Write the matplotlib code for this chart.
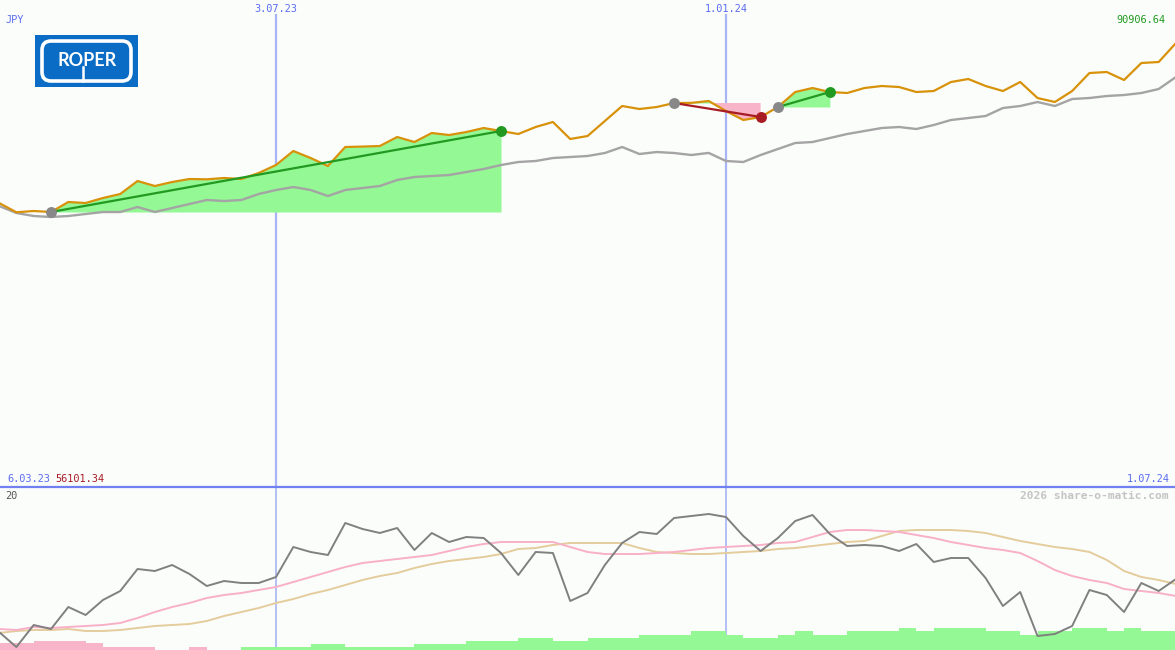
import datetime as dt
import numpy as np
import matplotlib
matplotlib.use("Agg")
import matplotlib.pyplot as plt
from matplotlib.patches import Rectangle, FancyBboxPatch
from matplotlib.lines import Line2D

# ---------------- data ----------------
start_date = dt.date(2023, 3, 6)
n_weeks = 70
week_dates = [start_date + dt.timedelta(days=7 * i) for i in range(n_weeks)]

price = [56101.34, 58146, 56250, 56508, 56304, 58351, 58146, 59170, 59989, 62650,
         61627, 62446, 63060, 63000, 63265, 63060, 64288, 65926, 68793, 67359,
         65722, 69612, 69700, 69816, 71659, 70635, 72478, 72068, 72683, 73502,
         72887, 72273, 73706, 74730, 71250, 71864, 74935, 78006, 77392, 77801,
         78620, 78650, 79030, 76982, 75140, 75754, 77801, 80872, 81691, 80872,
         80668, 81691, 82101, 81896, 80872, 81077, 82920, 83534, 82101, 81077,
         82920, 79644, 78825, 81077, 84762, 84967, 83329, 86810, 87015, 90906.64]

benchmark = [57737, 57532, 56099, 55485, 55280, 55485, 55894, 56304, 56304, 57327,
             56304, 57122, 57941, 58760, 58556, 58760, 59989, 60808, 61422, 60808,
             59579, 60808, 61217, 61627, 62855, 63469, 63674, 63879, 64493, 65107,
             65926, 66541, 66745, 67359, 67564, 67769, 68383, 69612, 68178, 68588,
             68383, 67974, 68400, 66745, 66541, 67974, 69202, 70431, 70635, 71454,
             72273, 72887, 73502, 73706, 73297, 74116, 75140, 75549, 75959, 77597,
             78006, 78825, 78006, 79439, 79644, 80053, 80258, 80668, 81487, 83943]

# lower panel (from 13.03.23)
oscillator = [18, 3, 25, 21, 43, 35, 50, 59, 81, 79, 85, 76, 64, 69, 67, 67, 73, 103,
              98, 95, 127, 121, 117, 122, 100, 117, 108, 113, 112, 97, 75, 98, 97, 49,
              57, 85, 107, 118, 116, 132, 134, 136, 133, 114, 99, 112, 129, 135, 116,
              104, 105, 104, 99, 106, 88, 92, 92, 72, 44, 58, 14, 16, 24, 60, 55, 38,
              67, 59, 71]
ma_fast = [21, 20, 23, 22, 23, 24, 25, 27, 32, 38, 43, 47, 52, 55, 57, 60, 63, 68, 73,
           78, 83, 87, 89, 91, 93, 95, 99, 103, 106, 108, 108, 108, 108, 103, 98, 96,
           96, 96, 97, 98, 100, 102, 103, 104, 105, 107, 108, 113, 118, 120, 120, 119,
           118, 115, 112, 108, 105, 102, 100, 97, 89, 80, 74, 70, 67, 61, 59, 57, 54]
ma_slow = [17, 19, 20, 20, 21, 19, 19, 20, 22, 24, 25, 26, 29, 34, 38, 42, 47, 51, 56,
           60, 65, 70, 74, 77, 82, 86, 89, 91, 93, 96, 101, 102, 105, 107, 107, 107,
           107, 102, 98, 97, 96, 96, 97, 98, 99, 101, 102, 104, 106, 108, 109, 114,
           119, 120, 120, 120, 119, 117, 113, 109, 106, 103, 101, 98, 90, 79, 73, 70, 66]
bars = [-7, -7, -9, -9, -9, -7, -3, -3, -3, 0, 0, -3, 0, 0, 3, 3, 3, 3, 6, 6, 3, 3, 3,
        3, 6, 6, 6, 9, 9, 9, 12, 12, 9, 9, 12, 12, 12, 15, 15, 15, 19, 19, 15, 12, 12,
        15, 19, 15, 15, 19, 19, 19, 22, 19, 22, 22, 22, 19, 19, 15, 19, 19, 22, 22, 19,
        22, 19, 19, 19]

# trades: (entry date, exit date)
trade_entries = [dt.date(2023, 4, 3), dt.date(2023, 12, 11), dt.date(2024, 1, 22)]
trade_exits = [dt.date(2023, 10, 2), dt.date(2024, 1, 15), dt.date(2024, 2, 12)]

tick_labels = ["3.07.23", "1.01.24"]
tick_dates = [dt.date(2023, 7, 3), dt.date(2024, 1, 1)]

currency = "JPY"
first_label = "6.03.23"
last_label = "1.07.24"
first_price_label = "56101.34"
last_price_label = "90906.64"
scale_label = "20"
credit = "2026 share-o-matic.com"

# ---------------- helpers ----------------
def dnum(d):
    return (d - start_date).days

x_all = np.array([dnum(d) for d in week_dates], dtype=float)
x_low = x_all[1:]
price = np.array(price, dtype=float)
benchmark = np.array(benchmark, dtype=float)

W, H = 1175, 650
TOP_H = 487
xl = (7.37, 482.6)

bg = "#fbfdfb"
c_orange = "#d8920a"
c_gray = "#a4a4a4"
c_green_fill = "#94f894"
c_pink_fill = "#f8b4c8"
c_green = "#229a22"
c_red = "#a81c24"
c_blue_line = "#a8b4f4"
c_blue_text = "#5a6cf0"

fig = plt.figure(figsize=(W / 100, H / 100), dpi=100)
fig.patch.set_facecolor(bg)

ax = fig.add_axes([0, (H - TOP_H) / H, 1, TOP_H / H])
ax.axis("off")
ax.set_xlim(*xl)
ax.set_ylim(0, 99711)

ax2 = fig.add_axes([0, 0, 1, (H - TOP_H) / H])
ax2.axis("off")
ax2.set_xlim(*xl)
ax2.set_ylim(0, H - TOP_H)

# vertical date lines
for td in tick_dates:
    ax.axvline(dnum(td), ymin=0, ymax=1 - 15 / TOP_H, color=c_blue_line, lw=1.6, zorder=1)
    ax2.axvline(dnum(td), color=c_blue_line, lw=1.2, zorder=1)

# trade fills
for en, ex in zip(trade_entries, trade_exits):
    i0 = week_dates.index(en)
    i1 = week_dates.index(ex)
    xs = x_all[i0:i1 + 1]
    ys = price[i0:i1 + 1]
    base = price[i0]
    ax.fill_between(xs, base, ys, where=ys >= base, interpolate=True,
                    color=c_green_fill, lw=0, zorder=2)
    ax.fill_between(xs, base, ys, where=ys <= base, interpolate=True,
                    color=c_pink_fill, lw=0, zorder=2)

ax.plot(x_all, benchmark, color=c_gray, lw=1.7, zorder=3)
ax.plot(x_all, price, color=c_orange, lw=1.6, zorder=4)

for en, ex in zip(trade_entries, trade_exits):
    i0 = week_dates.index(en)
    i1 = week_dates.index(ex)
    gain = price[i1] >= price[i0]
    col = c_green if gain else c_red
    ax.plot([x_all[i0], x_all[i1]], [price[i0], price[i1]], color=col, lw=1.6, zorder=5)
    ax.scatter([x_all[i0]], [price[i0]], s=62, color="#888888", zorder=6, lw=0)
    ax.scatter([x_all[i1]], [price[i1]], s=62, color=col, zorder=6, lw=0)

# lower panel
bvals = np.array(bars, dtype=float)
bcols = [c_green_fill if v > 0 else c_pink_fill for v in bvals]
ax2.bar(x_low, np.abs(bvals), width=7, align="edge", color=bcols, lw=0, zorder=1)
ax2.plot(x_low, ma_slow, color="#e4cc9c", lw=1.4, zorder=2)
ax2.plot(x_low, ma_fast, color="#f8b0c8", lw=1.4, zorder=2)
ax2.plot(x_low, oscillator, color="#808080", lw=1.4, zorder=3)

# separator line
fig.add_artist(Line2D([0, 1], [(H - TOP_H) / H] * 2, transform=fig.transFigure,
                      color="#7080f0", lw=1.6))

# texts
def px(x, y):
    return x / W, 1 - y / H

mono = "DejaVu Sans Mono"
fs = 7.4
for lab, td in zip(tick_labels, tick_dates):
    xp = (dnum(td) - xl[0]) / (xl[1] - xl[0]) * W
    fig.text(*px(xp, 9), lab, color=c_blue_text, fontsize=fs, family=mono,
             ha="center", va="center")
fig.text(*px(5, 20), currency, color=c_blue_text, fontsize=fs, family=mono,
         ha="left", va="center")
fig.text(*px(1165, 20), last_price_label, color=c_green, fontsize=fs, family=mono,
         ha="right", va="center")
fig.text(*px(7, 479), first_label, color=c_blue_text, fontsize=fs, family=mono,
         ha="left", va="center")
fig.text(*px(55, 479), first_price_label, color=c_red, fontsize=fs, family=mono,
         ha="left", va="center")
fig.text(*px(1170, 479), last_label, color=c_blue_text, fontsize=fs, family=mono,
         ha="right", va="center")
fig.text(*px(5, 496), scale_label, color="#555555", fontsize=fs, family=mono,
         ha="left", va="center")
fig.text(*px(1168, 496), credit, color="#c4c4c4", fontsize=8.1, family=mono,
         weight="bold", ha="right", va="center")

# logo
lax = fig.add_axes([35 / W, 1 - 87 / H, 103 / W, 52 / H])
lax.axis("off")
lax.set_xlim(0, 103)
lax.set_ylim(52, 0)
lax.add_patch(Rectangle((0, 0), 103, 52, color="#0a6cc4", lw=0))
lax.add_patch(FancyBboxPatch((7, 6), 89, 40, boxstyle="round,pad=0,rounding_size=9",
                             fill=False, ec="white", lw=2.6))
lax.text(52, 25, "ROPER", color="white", fontsize=13, weight="bold",
         family="Lato", ha="center", va="center")
lax.plot([48, 48], [32, 46], color="white", lw=1.8)

fig.savefig("out.png", dpi=100, facecolor=bg)
